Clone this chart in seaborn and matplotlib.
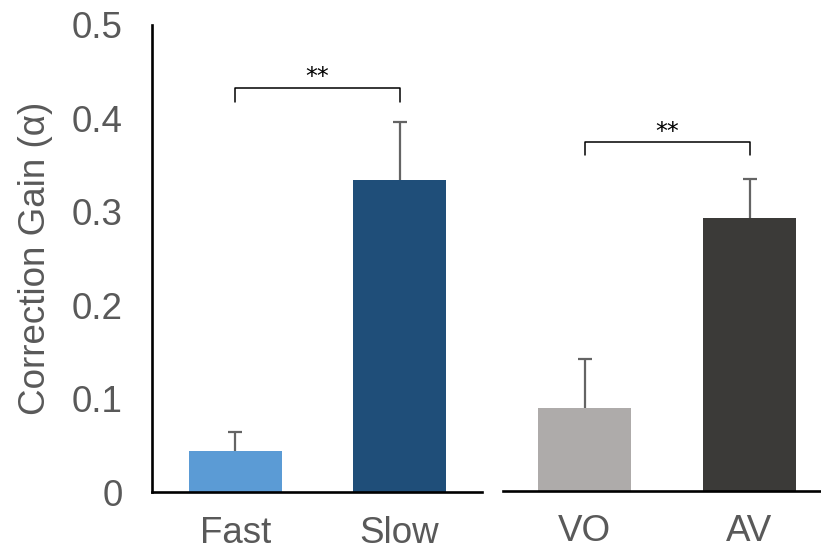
import matplotlib
matplotlib.use("Agg")
import matplotlib.pyplot as plt
import seaborn as sns
import numpy as np

# ---- data ----
left_categories = ["Fast", "Slow"]
left_means = [0.044, 0.334]
left_err_upper = [0.020, 0.062]

right_categories = ["VO", "AV"]
right_means = [0.089, 0.292]
right_err_upper = [0.052, 0.042]

left_colors = ["#5B9BD5", "#1F4E79"]
right_colors = ["#AEABAA", "#3B3A38"]

y_ticks = [0, 0.1, 0.2, 0.3, 0.4, 0.5]
y_tick_labels = ["0", "0.1", "0.2", "0.3", "0.4", "0.5"]
y_label = "Correction Gain (\u03b1)"
sig_label = "**"

# ---- styling ----
sns.set_style("white")
plt.rcParams["font.family"] = ["Liberation Sans", "DejaVu Sans"]
TXT = "#595959"
FS = 26.5

fig = plt.figure(figsize=(8.21, 5.5), dpi=100)
ax1 = fig.add_axes([152/821, 58/550, 330/821, 467/550])
ax2 = fig.add_axes([503/821, 59.3/550, 318/821, 467/550])

def draw(ax, cats, means, errs, colors, xlim, show_y, bracket_top, bracket_bot):
    sns.barplot(x=cats, y=means, hue=cats, palette=colors, legend=False,
                width=0.567, ax=ax, saturation=1, errorbar=None, linewidth=0)
    xs = np.arange(len(cats))
    _, caps, _ = ax.errorbar(xs, means, yerr=[np.zeros(len(errs)), errs], fmt="none",
                             ecolor="#646464", elinewidth=1.6, capsize=4.8, capthick=1.6)
    if len(caps) == 2:
        caps[0].set_visible(False)
    ax.set_xlim(*xlim)
    ax.set_ylim(0, 0.5)
    for s in ["top", "right"]:
        ax.spines[s].set_visible(False)
    ax.spines["bottom"].set_linewidth(1.9)
    ax.spines["bottom"].set_color("black")
    if show_y:
        ax.spines["left"].set_linewidth(1.9)
        ax.spines["left"].set_color("black")
        ax.set_yticks(y_ticks)
        ax.set_yticklabels(y_tick_labels)
        ax.tick_params(axis="y", length=0, pad=21, labelsize=FS, labelcolor=TXT)
        ax.set_ylabel(y_label, fontsize=FS, color=TXT)
        ax.yaxis.set_label_coords(-0.30, 0.50)
    else:
        ax.spines["left"].set_visible(False)
        ax.set_yticks([])
        ax.set_ylabel("")
    ax.tick_params(axis="x", length=0, pad=17, labelsize=FS, labelcolor=TXT)
    ax.set_xlabel("")
    ax.grid(False)
    # significance bracket
    ax.plot([0, 0, 1, 1], [bracket_bot, bracket_top, bracket_top, bracket_bot],
            color="black", lw=1.1, clip_on=False)
    ax.text(0.5, bracket_top + 0.004, sig_label, ha="center", va="baseline",
            fontsize=17, color="black", family="DejaVu Sans")

draw(ax1, left_categories, left_means, left_err_upper, left_colors,
     (-0.509, 1.503), True, 0.433, 0.418)
draw(ax2, right_categories, right_means, right_err_upper, right_colors,
     (-0.494, 1.433), False, 0.373, 0.359)

fig.savefig("out.png", dpi=100)
